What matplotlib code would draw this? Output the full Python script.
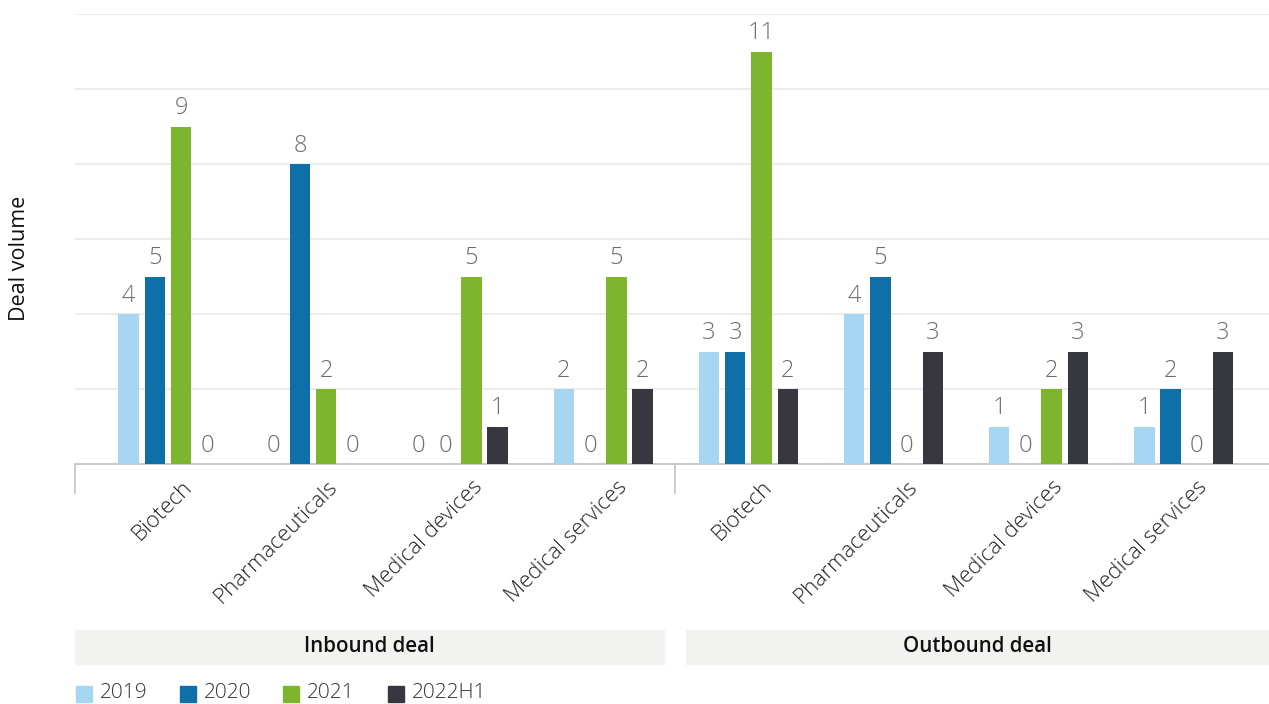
import matplotlib
matplotlib.use("Agg")
import matplotlib.pyplot as plt
import numpy as np
from matplotlib.patches import Rectangle

plt.rcParams["font.family"] = ["Open Sans", "DejaVu Sans"]

categories = ["Biotech", "Pharmaceuticals", "Medical devices", "Medical services"] * 2
groups = ["Inbound deal", "Outbound deal"]
years = ["2019", "2020", "2021", "2022H1"]
v2019 = [4, 0, 0, 2, 3, 4, 1, 1]
v2020 = [5, 8, 0, 0, 3, 5, 0, 2]
v2021 = [9, 2, 5, 5, 11, 0, 2, 0]
v2022 = [0, 0, 1, 2, 2, 3, 3, 3]
colors = ["#a7d6f2", "#0e6fa9", "#7db52f", "#373740"]

W, H = 1269, 704
fig = plt.figure(figsize=(W / 100, H / 100), dpi=100)
ax = fig.add_axes([75 / W, 1 - 464 / H, 1194 / W, 450 / H])

x = np.arange(len(categories))
step = 0.181
bw = 0.141
for i, (vals, c) in enumerate(zip([v2019, v2020, v2021, v2022], colors)):
    pos = x + (i - 1.5) * step
    ax.bar(pos, vals, width=bw, color=c, zorder=3)
    for p, v in zip(pos, vals):
        ax.text(p, v + 0.17, str(v), ha="center", va="bottom", fontsize=17,
                color="#6d6d6d", fontweight="light")

ax.set_xlim(-0.641, 7.588)
ax.set_ylim(0, 12)
ax.set_yticks(range(2, 13, 2))
ax.yaxis.grid(True, color="#e9e9e9", linewidth=1.2, zorder=0)
ax.tick_params(axis="y", length=0, labelleft=False)
for s in ["top", "right", "left"]:
    ax.spines[s].set_visible(False)
ax.spines["bottom"].set_color("#c4c4c4")
ax.spines["bottom"].set_linewidth(1.3)

ax.set_xticks(x + 0.093)
ax.set_xticklabels(categories, rotation=45, ha="right", va="top",
                   rotation_mode="anchor", fontsize=16, color="#222222",
                   fontweight="light")
ax.tick_params(axis="x", length=0, pad=9)

# group separators
for xs in [-0.641, 3.494]:
    ax.plot([xs, xs], [0, -0.78], color="#c4c4c4", linewidth=1.2,
            clip_on=False, transform=ax.transData)

# group header bands
bands = [(75, 664), (686, 1269)]
for (x0, x1), name in zip(bands, groups):
    fig.patches.append(Rectangle((x0 / W, 1 - 664 / H), (x1 - x0) / W, 34 / H,
                                 transform=fig.transFigure, color="#f2f2f0",
                                 zorder=0))
    fig.text((x0 + x1) / 2 / W, 1 - 646 / H, name, ha="center", va="center",
             fontsize=14.8, fontweight="semibold", color="#111111")

fig.text(20 / W, 1 - 258 / H, "Deal volume", rotation=90, ha="center",
         va="center", fontsize=15.5, color="#111111")

# legend
leg_x = [76, 180, 283, 388]
for lx, name, c in zip(leg_x, years, colors):
    fig.patches.append(Rectangle((lx / W, 1 - 702 / H), 16 / W, 16 / H,
                                 transform=fig.transFigure, color=c))
    fig.text((lx + 24) / W, 1 - 693 / H, name, ha="left", va="center",
             fontsize=15, color="#333333", fontweight="light")

fig.savefig("out.png", dpi=100)
